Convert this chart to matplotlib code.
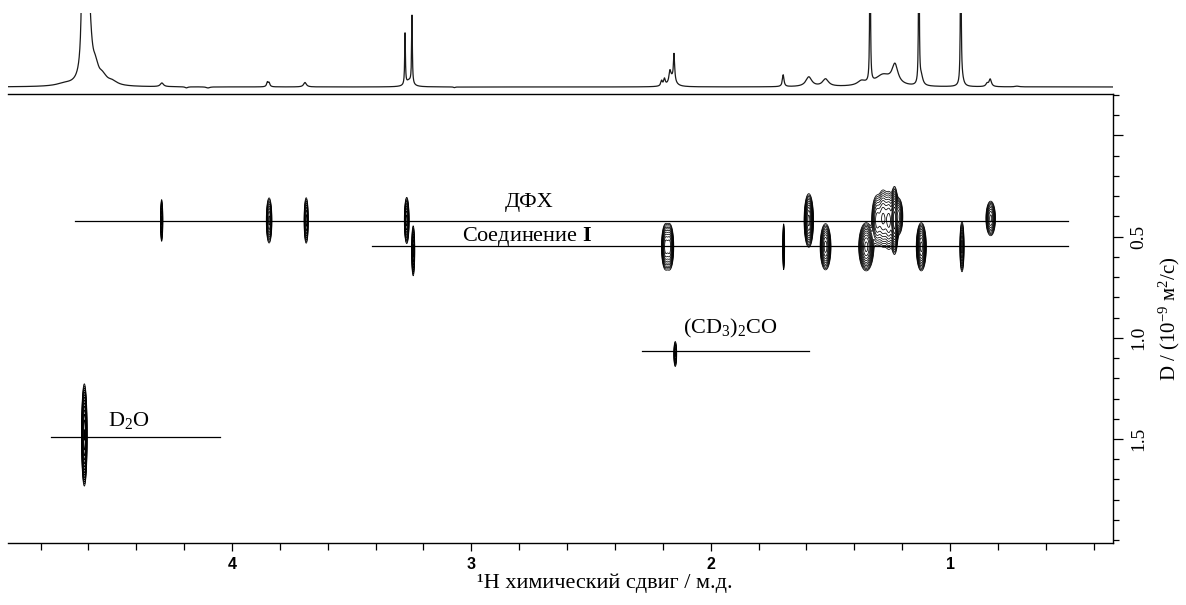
import numpy as np
import matplotlib.pyplot as plt
from matplotlib.ticker import MultipleLocator

plt.rcParams['font.family'] = ['Liberation Serif', 'DejaVu Serif']
plt.rcParams['mathtext.fontset'] = 'custom'
plt.rcParams['mathtext.rm'] = 'Liberation Serif'
plt.rcParams['mathtext.it'] = 'Liberation Serif:italic'
plt.rcParams['mathtext.bf'] = 'Liberation Serif:bold'

# 1D 1H-спектр сверху: положение (м.д.), высота (1 = обрез), полуширина
spec_ppm = [4.620, 4.600, 4.570, 4.540, 4.500, 4.700, 4.293, 4.19, 4.10,
            3.852, 3.845, 3.695, 3.277, 3.248, 3.260, 3.07,
            2.205, 2.193, 2.170, 2.153, 2.160,
            1.697, 1.590, 1.520, 1.370, 1.334, 1.280, 1.230,
            1.130, 1.120, 0.955, 0.950, 0.832, 0.845, 0.720]
spec_h = [24, 1.2, 0.18, 0.10, 0.05, 0.03, 0.05, -0.015, -0.015,
          0.06, 0.05, 0.06, 0.70, 0.92, 0.08, -0.01,
          0.07, 0.09, 0.15, 0.36, 0.10,
          0.16, 0.13, 0.10, 0.06, 3.0, 0.15, 0.26,
          3.0, 0.12, 3.0, 0.10, 0.10, 0.04, 0.01]
spec_w = [0.002, 0.012, 0.015, 0.02, 0.025, 0.04, 0.008, 0.006, 0.008,
          0.004, 0.004, 0.007, 0.0018, 0.0018, 0.015, 0.004,
          0.004, 0.004, 0.005, 0.003, 0.015,
          0.004, 0.015, 0.015, 0.02, 0.0015, 0.04, 0.015,
          0.0015, 0.008, 0.0015, 0.008, 0.006, 0.006, 0.01]

# DOSY кросс-пики: м.д., D, ширина по м.д., ширина по D, амплитуда
dosy_ppm = [4.294, 3.845, 3.690, 3.270, 1.590, 1.305, 1.280, 1.255, 1.232, 1.215, 0.830,
            3.243, 2.188, 2.172, 1.695, 1.520, 1.350, 1.120, 0.950,
            2.148, 4.617]
dosy_D = [0.42, 0.42, 0.42, 0.42, 0.42, 0.42, 0.41, 0.42, 0.42, 0.40, 0.41,
          0.57, 0.55, 0.55, 0.55, 0.55, 0.55, 0.55, 0.55,
          1.08, 1.48]
dosy_sppm = [0.0025, 0.005, 0.004, 0.004, 0.0075, 0.010, 0.010, 0.010, 0.006, 0.008, 0.0085,
             0.003, 0.007, 0.007, 0.002, 0.009, 0.012, 0.008, 0.004,
             0.003, 0.004]
dosy_sD = [0.05, 0.047, 0.05, 0.045, 0.05, 0.055, 0.06, 0.06, 0.06, 0.04, 0.036,
           0.055, 0.045, 0.045, 0.055, 0.045, 0.045, 0.045, 0.055,
           0.03, 0.085]
dosy_amp = [1, 2, 1.5, 3, 4, 1.5, 1.8, 2.0, 6, 1.5, 2,
            1.5, 3, 3, 1, 3, 4, 4, 1.5,
            1, 10]

# горизонтальные линии компонентов: D, от, до (м.д.)
comp_D = [0.422, 0.548, 1.066, 1.49]
comp_from = [4.656, 3.416, 2.287, 4.755]
comp_to = [0.508, 0.508, 1.589, 4.05]

comp_labels = ['ДФХ', r'Соединение $\mathbf{I}$', r'(CD$_3$)$_2$CO', r'D$_2$O']
label_ppm = [2.86, 3.04, 2.115, 4.52]
label_D = [0.33, 0.497, 0.955, 1.41]

fig = plt.figure(figsize=(11.86, 6.05), dpi=100)
ax = fig.add_axes([8 / 1186, 62 / 605, 1105 / 1186, 449 / 605])
ax_top = fig.add_axes([8 / 1186, 513 / 605, 1105 / 1186, 79 / 605])

x_lim = (4.936, 0.319)

# верхний спектр
ppm_axis = np.linspace(x_lim[1], x_lim[0], 12000)
spec = np.zeros_like(ppm_axis)
for p, h, w in zip(spec_ppm, spec_h, spec_w):
    spec += h * w ** 2 / ((ppm_axis - p) ** 2 + w ** 2)
ax_top.plot(ppm_axis, spec, color='#1a1a1a', lw=0.9)
ax_top.set_xlim(x_lim)
ax_top.set_ylim(-0.0676, 1.0)
ax_top.axis('off')

# DOSY контуры
gx = np.arange(0.45, 4.85, 0.0008)
gy = np.arange(-0.2, 2.0, 0.004)
Z = np.zeros((len(gy), len(gx)))
for p, d, sp, sd, a in zip(dosy_ppm, dosy_D, dosy_sppm, dosy_sD, dosy_amp):
    Z += a * np.outer(np.exp(-(gy - d) ** 2 / (2 * sd ** 2)),
                      np.exp(-(gx - p) ** 2 / (2 * sp ** 2)))
levels = 0.12 * 1.4 ** np.arange(14)
ax.contour(gx, gy, Z, levels=levels, colors='k', linewidths=0.55)

for d, a, b in zip(comp_D, comp_from, comp_to):
    ax.plot([a, b], [d, d], color='k', lw=0.9)
for t, p, d in zip(comp_labels, label_ppm, label_D):
    ax.text(p, d, t, ha='left', va='center', fontsize=16)

ax.set_xlim(x_lim)
ax.set_ylim(2.014, -0.205)
ax.spines['left'].set_visible(False)
for s in ['top', 'bottom', 'right']:
    ax.spines[s].set_linewidth(1.0)

ax.set_xticks([4, 3, 2, 1], ['4', '3', '2', '1'],
              fontfamily=['Liberation Sans', 'DejaVu Sans'], fontweight='bold', fontsize=11.5)
ax.xaxis.set_minor_locator(MultipleLocator(0.2))
ax.tick_params(axis='x', which='major', direction='out', length=6, width=0.9, pad=4)
ax.tick_params(axis='x', which='minor', direction='out', length=5, width=0.9)

ax.yaxis.tick_right()
ax.yaxis.set_label_position('right')
ax.set_yticks([0.0, 0.5, 1.0, 1.5], ['', '0.5', '1.0', '1.5'], rotation=90, va='center', fontsize=14)
ax.yaxis.set_minor_locator(MultipleLocator(0.1))
ax.tick_params(axis='y', which='major', direction='out', length=7.5, width=0.9, pad=5)
ax.tick_params(axis='y', which='minor', direction='out', length=4.5, width=0.9)

ax.set_xlabel('¹H химический сдвиг / м.д.', fontsize=16)
ax.xaxis.set_label_coords(0.54, -0.09)
ax.xaxis.label.set_va('center')
ax.set_ylabel('D / (10$^{-9}$ м$^2$/с)', fontsize=15, rotation=90, labelpad=7)

fig.savefig('out.png', dpi=100)
